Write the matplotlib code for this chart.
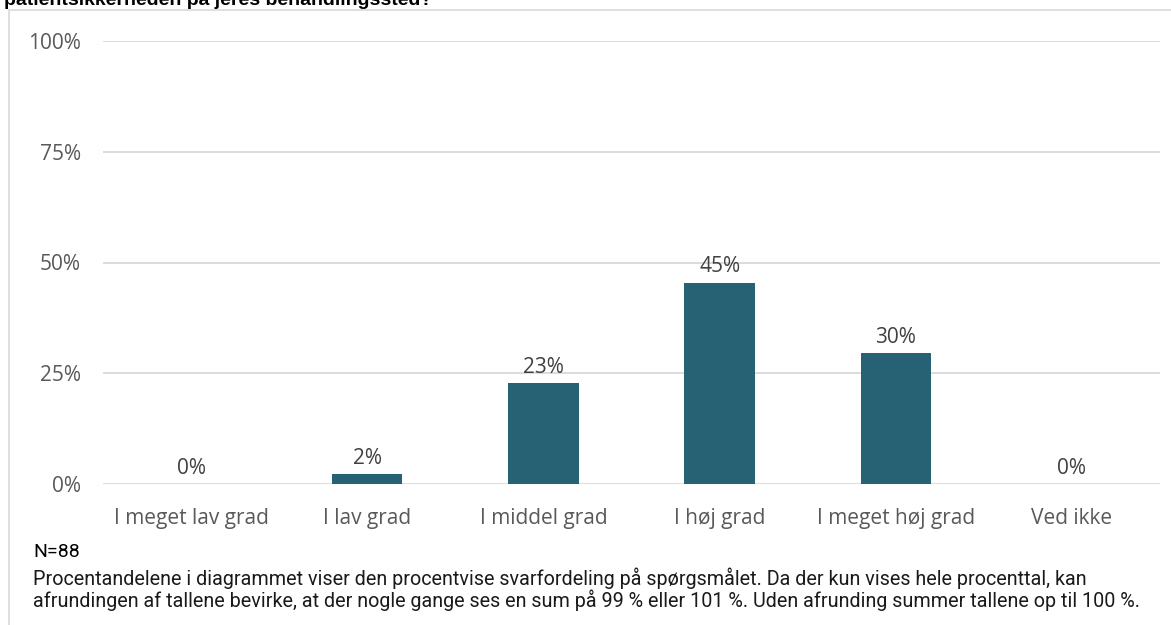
import matplotlib.pyplot as plt
from matplotlib.patches import Rectangle

categories = ['I meget lav grad', 'I lav grad', 'I middel grad', 'I høj grad',
              'I meget høj grad', 'Ved ikke']
counts = [0, 2, 20, 40, 26, 0]
n_total = 88
shares = [c / n_total * 100 for c in counts]
value_labels = ['0%', '2%', '23%', '45%', '30%', '0%']
y_ticks = [0, 25, 50, 75, 100]
y_tick_labels = ['0%', '25%', '50%', '75%', '100%']

title = 'patientsikkerheden på jeres behandlingssted?'
note_n = 'N=88'
note_lines = ['Procentandelene i diagrammet viser den procentvise svarfordeling på spørgsmålet. '
              'Da der kun vises hele procenttal, kan',
              'afrundingen af tallene bevirke, at der nogle gange ses en sum på 99 % eller 101 %. '
              'Uden afrunding summer tallene op til 100 %.']

BAR_COLOR = '#266174'
GRID_COLOR = '#d9d9d9'
TEXT_COLOR = '#595959'

W, H = 1171, 625
fig = plt.figure(figsize=(W / 100, H / 100), dpi=100)

# frame around the chart area
fig.patches.append(Rectangle((9 / W, -0.01), 1.02, 1 - 10 / H + 0.01,
                             transform=fig.transFigure, fill=False,
                             edgecolor=GRID_COLOR, linewidth=1.2))

ax = fig.add_axes([103 / W, 1 - 484 / H, (1160 - 103) / W, (484 - 41) / H])
x = range(len(categories))
ax.bar(x, shares, width=0.4, color=BAR_COLOR, zorder=3)
for i, (v, lab) in enumerate(zip(shares, value_labels)):
    ax.annotate(lab, (i, v), xytext=(0, 7.5), textcoords='offset points',
                ha='center', va='baseline', fontsize=15, color='#404040',
                family='Open Sans')

ax.set_xlim(-0.5, len(categories) - 0.5)
ax.set_ylim(0, 100)
ax.set_yticks(y_ticks)
ax.set_yticklabels(y_tick_labels)
ax.set_xticks(list(x))
ax.set_xticklabels(categories)
ax.tick_params(axis='y', length=0, pad=16, labelsize=15, labelcolor=TEXT_COLOR)
ax.tick_params(axis='x', length=0, pad=17, labelsize=15, labelcolor=TEXT_COLOR)
for lab in ax.get_xticklabels() + ax.get_yticklabels():
    lab.set_family('Open Sans')
ax.grid(axis='y', color=GRID_COLOR, linewidth=1.3, zorder=0)
for s in ax.spines.values():
    s.set_visible(False)

# title is cut off at the top edge in the original
fig.text(4 / W, 1 - 5 / H, title, fontsize=14, fontweight='bold',
         family='Liberation Sans', color='black', va='baseline')

fig.text(33 / W, 1 - 552 / H, note_n, fontsize=14, family='Roboto',
         color='black', va='center')
for k, line in enumerate(note_lines):
    fig.text(33 / W, 1 - (578 + 22 * k) / H, line, fontsize=14.2,
             family='Roboto', color='#1a1a1a', va='center')

fig.savefig('out.png', dpi=100)
